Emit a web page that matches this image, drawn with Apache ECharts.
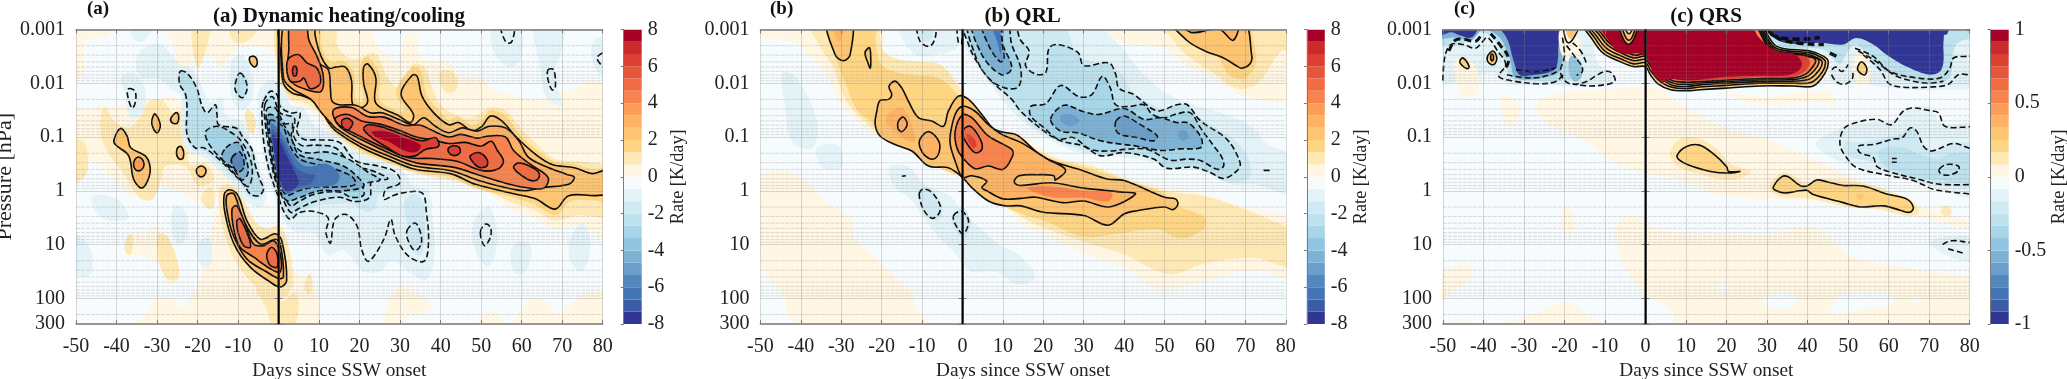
<!DOCTYPE html>
<html><head><meta charset="utf-8">
<style>html,body{margin:0;padding:0;background:#fff}#c{width:2067px;height:379px}</style>
<script src="https://cdn.jsdelivr.net/npm/echarts@6/dist/echarts.min.js"></script>
</head><body><div id="c"></div>
<script>
// Tick labels and axis values
const pressureTicks = [0.001, 0.01, 0.1, 1, 10, 100, 300];
const minorPressures = [0.002,0.003,0.004,0.005,0.006,0.007,0.008,0.009,0.02,0.03,0.04,0.05,0.06,0.07,0.08,0.09,0.2,0.3,0.4,0.5,0.6,0.7,0.8,0.9,2,3,4,5,6,7,8,9,20,30,40,50,60,70,80,90,200];
const onsetDay = [0];
const warmColors = ['#FFF6E4','#FEE8B4','#FED683','#FDC472','#FDB264','#FB9D59','#F7844E','#F16C43','#E6563B','#DC4032','#CA2A2C','#A50026'];
const coolColors = ['#F6FBFD','#E4F3F8','#D0EAF3','#BDE1ED','#A6D6E8','#92C5DF','#7DB2D5','#6A9FCB','#5487BE','#4575B4','#3D5CA8','#313695'];

// Contours: [rate level, line style (0 none, 1 closed, 2 open), [day, log10(hPa), ...]]
const dynamicContours = [
[0,0,[-51,-3.2,-41,-3.2,-42,-2.9,-48,-2.75,-48,-2.2,-51,-2.1]],
[0,0,[-29,-3.2,1,-3.2,0,-2.6,-5,-2.7,-11,-2.6,-14,-2.3,-20,-2.7,-22,-2.3,-24,-2.2,-26,-2.7]],
[0,0,[-51,-1.55,-46,-1.5,-44,-1.6,-40,-1.55,-36,-1.75,-31,-1.7,-26,-1.75,-22,-1.5,-23,-1.15,-19,-.95,-15,-.6,-11,-.2,-7,0,-4,.1,-2.5,.4,-5,.3,-10,.2,-15,.1,-20,.2,-25,0,-30,-.1,-35,.1,-38,0,-42,-.3,-46,-.55,-51,-.5]],
[0,0,[-37,.95,-35,.75,-33,.85,-31,.65,-29,.75,-28,.9,-25,1.3,-24.5,1.6,-27,1.75,-29,1.45,-31,1.3,-34,1.2,-37,1.15]],
[0,0,[-51,2.6,-51,2.5,-40,2.5,-36,2.45,-33,2.3,-30,2,-26,2,-24,2.2,-20,1.75,-18,1.2,-16,.5,-14,.2,-10,.8,-7,1.3,-4,1.6,-1,2.1,0,2,3,1.5,6,1.6,9,1.8,10,2.3,9,2.6]],
[0,0,[26,2.6,27,2.1,30,1.75,33,1.85,38,2.15,35,2.3,32,2.35,30,2.6]],
[0,0,[49,2.6,52,2.25,56,2.45,58,2.6]],
[0,0,[58,2.6,62,2.05,66,2.05,69,2.3,72,2.1,76,1.9,82,1.95,82,2.6]],
[0,0,[10.7,-3.2,23,-3.2,23.5,-2.8,29.6,-2.4,31.3,-2.9,34,-2.9,35,-2.5,38.7,-2.4,42,-2.4,45,-2.1,50,-2.1,52.7,-1.9,56.8,-1.8,62.5,-1.7,67.5,-1.8,73,-1.9,76.5,-2.05,82,-1.85,82,.85,73,.65,68,.7,63,.5,57,.35,51,0,42.8,-.2,34.6,-.45,29.6,-.45,22,-.6,14,-1,8,-1.5,4,-1.6,-.2,-2.1,-.2,-3.2]],
[.67,0,[-43,-1.55,-40,-1.25,-36,-1.2,-32,-1.65,-29,-1.7,-26,-1.45,-24,-1.5,-22,-1,-22,-.5,-18,-.5,-16,-.2,-20,-.1,-23,-.45,-28,-.45,-29,-.2,-31,.15,-34,.15,-38,-.3,-42,-.7,-44,-1.1]],
[.67,0,[-51,-.95,-48,-.9,-47,-.5,-48,-.25,-51,-.15]],
[.67,0,[-21,-3.2,-17,-3.2,-18,-2.6,-20,-2.3,-21.5,-2.9]],
[.67,0,[-12,-3.2,-6,-3.2,-6,-2.9,-10,-2.75,-12,-2.9]],
[.67,0,[-8,-1.5,-6,-1.4,-6,-1.1,-7.5,-1.1]],
[.67,0,[-29.5,.8,-27.5,.85,-25,1.3,-25,1.65,-28,1.6,-30,1.1]],
[.67,0,[-38,1,-36.5,.8,-36,1.05,-37,1.2]],
[.67,0,[-19,.1,-16.5,-.05,-16,.3,-18,.3]],
[.67,0,[7,1.6,8,1.55,8,1.9,6.5,1.85]],
[.67,0,[0,-3.2,14,-3.2,14.5,-2.7,18,-2.45,21,-2.5,24,-2.55,27,-2.1,30,-1.9,33,-2.35,36,-2.3,38,-1.9,40,-1.6,44,-1.4,47,-1.35,50,-1.45,52,-1.55,56,-1.5,60,-1.15,64,-.85,68,-.6,74,-.55,80,-.5,82,-.5,82,.45,80,.5,74,.45,68,.55,63,.35,57,.2,50,-.05,42,-.2,34,-.32,28,-.48,20,-.72,14,-1.02,10,-1.45,6,-1.65,2.5,-1.72,.2,-2.1]],
[.67,0,[40,-2.2,43,-2.2,44,-1.9,41,-1.85]],
[.67,0,[-14.5,-.05,-12,-.12,-9,.1,-6,.55,-3,.7,0,.65,2,.9,3.5,1.7,1,2,-3,1.9,-8,1.6,-12,1.1,-14.5,.4]],
[.67,0,[-6,1.75,-3,1.85,1,2.05,4,1.9,5,2.2,3,2.6,-1,2.6,-3,2.2]],
[1.33,0,[.3,-3.2,10,-3.2,10.5,-2.7,13,-2.4,16,-2.42,18.5,-2.2,18.8,-1.75,20,-1.65,21,-1.7,20,-2.1,20.5,-2.4,22,-2.5,25,-2.15,25,-1.7,29,-1.5,31,-1.5,29,-1.85,33,-2.3,35,-2.25,36.5,-1.8,39,-1.55,42,-1.33,44.5,-1.38,47.5,-1.22,50,-1.3,52.3,-1.5,56,-1.4,59.5,-1.05,64,-.75,68,-.55,73,-.5,78,-.4,82,-.42,82,.2,78,.18,72,.2,68.5,.45,63,.25,58,.13,48.5,-.05,42.5,-.25,34,-.35,28,-.5,20.5,-.75,14,-1.08,10,-1.55,6,-1.72,3,-1.78,.6,-2]],
[2,1,[.6,-3.2,8.8,-3.2,9,-2.9,10.5,-2.5,12.5,-2.28,14,-2.3,16.5,-2.3,18,-2.05,18.3,-1.6,20.6,-1.55,22,-1.66,21,-2,21,-2.3,22,-2.36,24,-2.1,24,-1.63,29.6,-1.4,32.5,-1.27,33.3,-1.42,30.2,-1.8,33,-2.15,34.2,-2.13,35.4,-1.76,38.3,-1.45,42,-1.23,44.4,-1.27,47.7,-1.12,50.2,-1.2,52.3,-1.39,55.1,-1.3,58.4,-1.02,63.4,-.68,67.5,-.49,73,-.43,77.4,-.32,80,-.37,82,-.37,82,.08,80,.08,78,.09,71.6,.09,68.3,.34,63.4,.15,58.4,.06,48.6,-.12,42.8,-.31,33.7,-.4,28,-.56,20.6,-.8,14,-1.12,12,-1.3,10,-1.6,6.2,-1.76,3.3,-1.82,1.2,-2,.6,-2.47]],
[3,1,[1.6,-3.2,6.6,-3.2,7,-2.75,10,-2.37,12.3,-2.25,12.8,-1.9,13.2,-1.67,15,-1.6,18,-1.6,19.8,-1.57,22.6,-1.45,25.5,-1.45,29.6,-1.33,33.3,-1.23,35.8,-1.36,38.7,-1.2,42,-1.08,45.3,-1.17,49,-1.11,52,-1.2,56,-1.17,59.3,-.93,61.7,-.62,66.7,-.43,71,-.31,73,-.25,71.6,-.12,65,-.06,60.9,0,55.9,-.06,49.4,-.19,42.8,-.37,33.7,-.46,28,-.62,20.6,-.86,14,-1.17,13,-1.25,10.3,-1.48,8,-1.7,3.3,-1.9,1.2,-2.1]],
[4,1,[3,-3.2,2.5,-2.6,2.2,-2.2,3.5,-2,7,-1.88,10.5,-1.85,11,-2.15,9.5,-2.5,7.5,-2.8,6.5,-3.2]],
[4,1,[13.5,-1.5,18,-1.55,22,-1.38,26,-1.37,31,-1.22,35,-1.22,38,-1.12,42,-1,45,-1.05,49,-.98,52,-1.02,56,-1,58,-.75,62,-.5,66.5,-.25,65.5,-.05,61,-.06,56,-.14,50,-.28,43,-.44,34,-.52,28,-.68,21,-.93,15,-1.2]],
[5,1,[14,-1.35,17,-1.42,20.5,-1.3,25,-1.24,30,-1.12,34,-1,38,-.95,42,-.88,46,-.9,50,-.83,52.5,-.92,54,-.75,55.5,-.55,54,-.4,50,-.38,44,-.55,38,-.6,32,-.62,26,-.8,20,-1.02,15,-1.22]],
[5,1,[2.6,-2.47,5,-2.53,7,-2.38,9.5,-2.28,10.3,-2,7.8,-1.9,6.2,-2.1,5.3,-2.04,2.9,-2.04,2,-2.3]],
[5,1,[58,-.43,59.3,-.52,63.4,-.4,64.4,-.28,63.4,-.19,61.3,-.22]],
[6,1,[21,-1.15,22.2,-1.23,26.3,-1.17,30.5,-1.05,35.4,-.93,38.7,-.99,39.5,-.83,36.2,-.77,33.7,-.65,30.5,-.65,26.3,-.83,23,-.99]],
[6,1,[42,-.8,44.4,-.82,44.6,-.69,42.4,-.68]],
[6,1,[47.3,-.65,49.4,-.71,51.4,-.59,51.4,-.46,49.4,-.44,47.7,-.56]],
[6,1,[15.6,-1.3,16.9,-1.35,18.3,-1.27,17.3,-1.14,16,-1.17]],
[6,1,[3.6,-2.3,4.4,-2.3,4.4,-2.15,3.6,-2.15]],
[7.4,0,[23,-1.1,27,-1.1,31,-.98,35,-.85,34,-.72,31,-.75,27,-.92,24,-1]],
[2,1,[-13.4,.06,-12,-.02,-10,.09,-7.8,.56,-4.5,.9,-.8,.8,.8,.93,2,1.67,.4,1.79,-2,1.7,-7,1.42,-11,.99,-13.2,.43]],
[3,1,[-12.8,.09,-11,.06,-8.6,.56,-4.5,.99,-.8,.9,.4,.99,1.2,1.6,0,1.63,-2.9,1.51,-7.8,1.27,-11,.86,-12.6,.43]],
[4,1,[-11.5,.34,-10.3,.28,-8.2,.62,-6.2,.99,-3.7,1.02,-1.2,.93,.4,1.17,.4,1.51,-2,1.45,-6.2,1.23,-9.5,1.05,-11,.74]],
[5,1,[-10.3,.56,-9.5,.52,-7.4,.86,-7,1.05,-8.6,1.02,-9.9,.8]],
[5,1,[-2.9,1.17,-1.7,1.05,-.4,1.17,-.4,1.42,-2,1.39,-2.7,1.3]],
[2,1,[-40.6,-.96,-39,-1.16,-37.4,-1.02,-36.5,-.8,-32.9,-.65,-31.7,-.43,-32.3,-.19,-33.9,-.05,-35.8,-.22,-37,-.65,-40.3,-.86]],
[3.4,1,[-35.8,-.49,-34.6,-.63,-33.2,-.49,-34.6,-.37]],
[2,1,[-31.3,-1.3,-30.5,-1.43,-29.2,-1.23,-29.9,-1.08,-31,-1.17]],
[2,1,[-26.5,-1.36,-25,-1.45,-24.9,-1.27,-26.3,-1.27]],
[2,1,[-25.1,-.77,-24,-.82,-23.5,-.62,-24.7,-.6]],
[2,1,[-20.3,-.37,-19.1,-.46,-17.9,-.37,-19.1,-.26]],
[2,1,[-7.2,-2.47,-5.8,-2.49,-5.3,-2.35,-6.2,-2.31]],
[-.67,0,[-36,-3.2,-31,-3.2,-33,-2.8,-36,-2.85]],
[-.67,0,[-35,-2.5,-30,-2.75,-26,-2.5,-24,-2.3,-22,-2.05,-24,-1.8,-30,-2.1,-34,-2.1]],
[-.67,0,[-39,-2.1,-36,-2.2,-33,-1.9,-33.5,-1.45,-36.5,-1.35,-38,-1.8]],
[-.67,0,[-25.5,-2.25,-22,-2.3,-19,-1.95,-17,-1.65,-14,-1.75,-13,-1.4,-9,-1.3,-7,-.95,-4.5,-.4,-3,.05,-4.5,.3,-8,.2,-11,-.1,-15,-.4,-19,-.65,-22,-.7,-24,-1.1,-24,-1.7]],
[-.67,0,[-11.5,-2.45,-8.5,-2.5,-6.5,-2.1,-6.5,-1.7,-9,-1.5,-11.5,-1.7]],
[-.67,0,[-5,-1.85,-2,-2.05,1,-1.95,3,-1.6,6,-1.55,9,-1.2,14,-1.05,20,-.7,26,-.55,31,-.35,33,-.1,37,0,38,.5,38.5,1.2,36.5,1.65,32,1.5,28,1.3,25,1.5,21,1.5,16,1.1,12,1.2,9,.8,4,.75,1,.5,-1,.1,-3,-.4,-4.5,-1,-5,-1.5]],
[-.67,0,[53,-3.2,59,-3.2,60,-2.5,57,-2.3,53,-2.6]],
[-.67,0,[63,-3.2,70,-3.2,70,-2.6,68,-2.2,70,-1.6,66,-1.75,64.5,-2.3]],
[-.67,0,[78,-2.8,82,-2.8,82,-2.1,78,-2.3]],
[-.67,0,[48,.6,52,.3,54,.9,52,1.4,49,1.2]],
[-.67,0,[72,.9,75,.6,77,1,75,1.5,72,1.3]],
[-.67,0,[58,1,62,1,61,1.5,58,1.5]],
[-.67,0,[-51,.8,-47,1,-46,1.5,-49,1.6,-51,1.4]],
[-.67,0,[-46,.1,-40,.15,-37,.5,-42,.55,-45,.4]],
[-.67,0,[-26,.3,-23,.4,-23,.9,-25.5,.95]],
[-.67,0,[-20,1,-17,.9,-17,1.4,-19,1.4]],
[-1.33,0,[-24.5,-2.2,-22.6,-2.15,-19.5,-1.75,-17.7,-1.4,-15,-1.6,-14.5,-1.25,-10,-1.2,-8.5,-1,-6,-.7,-5,-.2,-3.5,0,-5,.15,-7.5,.1,-9,-.1,-11.5,-.25,-15.5,-.55,-19,-.75,-21,-.75,-23,-1.05,-23,-1.6]],
[-1.33,0,[-10,-2.2,-8,-2.15,-7.5,-1.85,-9,-1.65,-11,-1.85]],
[-1.33,0,[-4,-1.7,-2,-1.9,0,-1.75,2,-1.5,5,-1.4,5,-1.1,9,-.95,15,-.88,20,-.55,26,-.42,30,-.2,29,-.02,25,.05,24,.3,22,.4,18,.25,14,.25,9,.28,5,.42,2.5,.5,0,.15,-2,-.3,-3.5,-.9]],
[-1.33,0,[31,.2,34,.05,36,.3,36,.9,35,1.2,33,1.1,32,.7]],
[-2,1,[-24.3,-2.22,-22.6,-2.19,-20.2,-1.91,-19,-1.6,-17.7,-1.45,-15.6,-1.6,-15.2,-1.42,-14.8,-1.23,-10.3,-1.16,-9,-1.02,-6.6,-.77,-5.8,-.49,-4.5,-.19,-3.7,-.03,-4.9,.09,-7,.06,-8.6,-.12,-11,-.31,-15.2,-.62,-18.5,-.8,-20.6,-.8,-22.6,-1.05,-22.6,-1.54,-23,-1.8,-24.4,-1.98]],
[-2,1,[-9.5,-2.19,-8.2,-2.07,-7.8,-1.88,-9,-1.73,-10.7,-1.88,-10.3,-2.1]],
[-.67,1,[-37,-1.9,-35.4,-1.85,-35.4,-1.63,-36.2,-1.54,-37.3,-1.79]],
[-3,1,[-18,-1.1,-15,-1.2,-11,-1.05,-9,-.9,-7,-.6,-6.5,-.3,-7.5,-.08,-10,-.25,-13,-.5,-17,-.85]],
[-4,1,[-13,-.8,-10,-.9,-8.5,-.7,-7.5,-.35,-9,-.2,-11,-.4,-14,-.6]],
[-5.4,1,[-11.5,-.62,-9.5,-.72,-8.5,-.45,-10,-.35,-11.5,-.5]],
[null,1,[-3.7,-1.67,-2,-1.85,-.4,-1.79,.4,-1.57,2.9,-1.45,5.3,-1.45,4.5,-1.11,6.2,-.96,10,-.95,15,-.9,19,-.56,24.7,-.46,28.4,-.37,30,-.22,29.6,-.12,26.5,-.03,26,.16,28,.1,30.4,.04,35.4,.04,36.5,.41,37,.97,35.9,1.31,32,1.21,28.8,.84,27.7,.53,26,.9,22.2,1.31,20.5,1.09,19.4,.66,16.7,.44,13.9,.53,12.8,.97,11.7,.78,12.2,.5,8.4,.38,5,.41,2.9,.53,1.2,.37,0,.12,-1.2,-.12,-2.5,-.43,-3.7,-.93,-4.1,-1.36,-4.1,-1.54]],
[-2.1,1,[-3.4,-1.6,-1.5,-1.75,.4,-1.45,3.9,-1.35,3.6,-1.05,5.5,-.85,9,-.85,14,-.8,18,-.5,24,-.35,27,-.22,23,-.18,22.5,.12,19,.2,15,.12,9,.2,5,.33,3,.4,.8,.1,-1,-.25,-2.4,-.8,-3.2,-1.2]],
[-3,1,[-3,-1.5,-1,-1.55,1.5,-1.25,3.4,-1.25,3.2,-.95,6,-.72,12,-.72,17,-.6,22,-.35,25,-.2,21,-.12,21,.08,18,.12,15,.02,9,.06,5,.2,3,.28,1,.03,-1,-.32,-2.2,-.9]],
[-4,1,[-2.6,-1.4,0,-1.35,3,-1,5,-.68,10,-.58,16,-.46,20,-.22,21,-.08,16,0,10,0,5,.13,2,.18,0,-.08,-1.6,-.6]],
[-5,1,[-2.2,-1.3,1,-1.2,2.7,-.85,5.5,-.58,12,-.45,18,-.27,19,-.12,14,-.07,9,-.07,5,0,2,.08,0,-.18,-1.3,-.7]],
[-6,0,[-1.9,-1.25,.5,-1.1,3,-.75,5.5,-.5,8,-.45,12,-.5,15,-.3,14,-.12,7,-.05,4,0,2,.06,0,-.2,-1.2,-.7]],
[-6.7,0,[-1.7,-1.15,.3,-1,2.5,-.7,4.5,-.42,7,-.32,9,-.3,8,-.14,4.5,-.06,2,.02,0,-.25,-1.1,-.7]],
[-7.4,0,[-1.5,-1.05,0,-.95,2,-.65,4,-.35,5,-.15,3.5,-.02,1.5,-.02,0,-.3,-1,-.7]],
[-1.4,1,[31.7,.74,33.7,.6,35,.77,35.2,.99,33.7,1.11,32,.93]],
[-.67,1,[49.8,.77,51,.62,52.3,.68,52.3,.86,50.8,1.02]],
[null,2,[54.3,-3.2,56,-2.78,57.6,-2.78,58.4,-3.2]],
[null,1,[66.5,-2.25,67.9,-2.25,68.3,-1.91,67.5,-1.88,66.5,-2.07]],
[null,2,[82,-2.62,80,-2.57,78.6,-2.47,80,-2.32,82,-2.27]]
];

const longwaveContours = [
[0,0,[-49.7,-.25,-44.7,-.37,-39,-.19,-35.6,.06,-33,.25,-28,.46,-26.6,.86,-21.6,1.23,-15.8,1.67,-12.5,1.91,-11.7,2.16,-9,2.41,-9,2.6,-34.7,2.6,-43,2.35,-44,1.98,-47.2,1.67,-50,1.36]],
[0,0,[-51,-3.2,-20,-3.2,-19.6,-2.47,-15.8,-2.38,-11,-2.35,-5.5,-2.35,-1.8,-2.1,1.5,-1.73,8,-1.17,14.4,-1.05,22.6,-.65,32,-.49,40,-.28,50,-.06,60,.06,70,.31,82,.56,82,1.6,72,1.48,60.5,1.67,50,1.85,45.7,1.73,40,1.42,30,1.17,20,.8,14.4,.62,9.7,.19,4.8,-.19,-.2,-.22,-6.8,-.46,-12.5,-.74,-15.8,-.86,-20.8,-.99,-24.9,-1.23,-30.7,-1.67,-33.6,-2.16,-38.1,-2.53,-41.4,-2.75,-49.7,-2.84,-51,-2.84]],
[0,0,[31,-3.2,82,-3.2,82,-1.75,70,-1.75,62,-2.1,55,-2.35,50,-2.65,40,-2.75,34,-3]],
[.67,0,[-49,-3.2,-44,-3.2,-47,-3.05]],
[.67,0,[-38,-3.2,-20.5,-3.2,-20.5,-2.9,-19.5,-2.6,-16,-2.45,-11,-2.4,-5.5,-2.35,-2,-2.05,1.5,-1.68,8,-1.12,14,-.95,22.6,-.62,32,-.45,40,-.23,50,0,60,.1,70,.35,80,.65,82,.65,82,1.4,72,1.25,60,1.35,52,1.55,47,1.45,40,1.18,30,.95,20,.68,14,.45,9,.1,4.5,-.25,-.5,-.35,-7,-.6,-13,-.88,-20,-1.05,-25,-1.35,-29,-1.7,-32,-2.3,-35,-2.65]],
[.67,0,[35,-3.2,40,-3.1,50,-2.95,55,-2.55,62,-2.2,68,-1.9,73,-2,76,-2.3,79,-2.6,82,-2.6,82,-3.2]],
[1.33,0,[-33,-3.2,-21,-3.2,-21.5,-2.8,-20,-2.35,-16,-2.2,-11,-2.15,-6,-2.1,-2.5,-1.9,1,-1.6,7,-1.15,14,-.9,22,-.6,32,-.4,40,-.2,50,.05,54,.3,60,.5,59.5,.72,54,.88,48,.72,38,.8,30,.85,20,.55,12,.35,6,.02,2,-.2,-5,-.4,-12,-.75,-17,-.9,-21,-1.2,-26,-1.5,-29,-2,-31,-2.4,-33,-2.85]],
[1.33,0,[45,-3.2,52,-3.05,57,-2.7,63,-2.5,66,-2.15,70,-2.1,72.5,-2.35,72,-2.8,70,-3.2]],
[2,1,[-21.2,-1.48,-20.4,-1.68,-18.3,-1.7,-17.5,-1.79,-18.2,-1.94,-16.7,-2.04,-15,-1.91,-13.4,-1.67,-10.9,-1.36,-7.6,-1.3,-4.7,-1.2,-3.5,-1.48,-1,-1.76,1.5,-1.7,4.8,-1.42,8,-1.14,13,-1.05,14.4,-.99,20.2,-.62,30,-.37,35.8,-.22,40,-.19,50,.12,52.7,.15,53.3,.25,52.1,.35,50,.3,43.2,.37,40,.43,36,.64,30,.46,20,.4,14.4,.28,10.5,.28,6.4,.19,2.3,-.06,0,-.25,-3.5,-.43,-8.4,-.46,-12.5,-.74,-16.7,-.86,-20.4,-1.02,-21.6,-1.23]],
[2.7,0,[-19,-1.35,-15,-1.55,-12,-1.1,-12,-.9,-16,-1.05]],
[2,1,[-33.6,-3.2,-31.5,-2.53,-29.5,-2.42,-27.8,-2.53,-27.6,-3.2]],
[3,0,[-32,-3.2,-29.5,-3.2,-30,-2.8,-31,-2.8]],
[2,1,[-24.1,-2.57,-23,-2.66,-22.7,-2.47,-22.8,-2.28,-23.4,-2.38]],
[3,1,[-3,-1.05,-1.8,-1.42,0,-1.57,3.1,-1.48,6.4,-1.23,9.7,-1.05,14.4,-.9,21,-.59,25.5,-.39,23,-.2,22.6,-.28,18.5,-.3,14,-.28,12.8,-.17,14,-.1,22,-.15,30,-.05,39,.02,42.8,.06,36.3,.3,30,.19,25,.22,18,.12,14.4,.14,10,.15,6,0,4.8,-.06,6,-.18,2.3,-.28,0,-.25,-1.8,-.55,-3,-.85]],
[3,1,[-10.5,-.96,-8.4,-1.1,-5.9,-.93,-5.8,-.71,-7.2,-.59,-9.2,-.65,-10.5,-.8]],
[3,1,[-15.8,-1.3,-14.6,-1.37,-13.7,-1.23,-15,-1.1,-16,-1.17]],
[4,0,[16,-.05,22,-.08,30,0,37,.04,36,.2,30,.13,22,.12]],
[4,1,[-1.8,-1.11,0,-1.41,2.3,-1.36,6.4,-1.02,12.2,-.77,12.4,-.65,10.1,-.4,6.4,-.46,3.1,-.41,0,-.62,-1.4,-.8]],
[5,1,[0,-1.11,1.9,-1.2,4.4,-.96,4.8,-.77,3.1,-.71,.7,-.93]],
[6,0,[1,-1.05,2.5,-1,3.5,-.85,2.5,-.8]],
[2,1,[51.4,-3.2,55.5,-2.8,60,-2.6,64.6,-2.47,67.9,-2.32,69,-2.28,71,-2.35,71.6,-2.5,69,-3.2]],
[3,1,[53.5,-3.2,56.4,-2.95,61.7,-3,63.8,-3,67,-2.8,68,-3.2]],
[4,1,[56.4,-3.2,58,-3.1,60,-3.2]],
[2,1,[44.4,-3.2,46,-3.1,48.6,-3.2]],
[-.67,0,[-16,-3.2,0,-3.2,-1,-2.7,-5,-2.55,-12,-2.55]],
[-.67,0,[0,-3.2,30,-3.2,39,-2.7,43.2,-2.3,49.7,-1.85,57,-1.6,65.4,-1.42,72,-1.17,75.3,-.87,82,-.62,82,.06,72,-.12,67,-.12,58.9,-.37,50,-.49,40,-.62,31,-.68,23.5,-.87,14.4,-1.33,10.1,-1.67,6.4,-2.04,2.3,-2.47,0,-2.78]],
[-.67,0,[-44.5,-2.2,-41,-2.1,-36,-1.3,-37,-.8,-42,-.9,-44,-1.6]],
[-.67,0,[-36,-.8,-31,-.85,-29.5,-.5,-31,-.4,-35,-.45]],
[-.67,0,[-18,-.45,-13.5,-.45,-9,-.1,-3,.1,0,.4,3,.6,9,1,14,1.2,18,1.6,14,1.75,8,1.5,2,1.5,-2,1.15,-6,.85,-10,.45,-13,.15,-17,-.1]],
[-1.33,0,[3,-3.2,20,-3.2,26,-2.95,28,-2.55,34,-2.35,39,-2.2,42,-1.85,47,-1.6,50,-1.5,57,-1.4,63,-1.15,68,-.9,71,-.55,71,-.25,66,-.15,58,-.45,50,-.55,40,-.7,31,-.73,23,-.95,16,-1.3,11,-1.75,7,-2.1,4,-2.6]],
[-1.33,0,[-11,0,-8,-.05,-5,.3,-6,.55,-9,.45]],
[-1.33,0,[-2.5,.5,0,.3,2,.6,.5,.9,-2,.7]],
[-1.33,0,[-12,-3.2,-8,-3.2,-7.5,-2.85,-10,-2.8]],
[-2,1,[.2,-3.2,12,-3.2,14.4,-2.8,16.5,-2.6,15.6,-2.33,18.1,-2.17,20.6,-2.2,21.4,-2.65,23.5,-2.72,28.6,-2.57,30,-2.33,36.2,-2.38,37.9,-2.17,38.7,-1.91,42.4,-1.79,48.1,-1.49,53,-1.6,55.6,-1.6,58.9,-1.3,65.4,-.96,68.7,-.52,67.9,-.37,64.6,-.23,61.3,-.34,57.2,-.44,50.5,-.42,47.3,-.59,40,-.71,34.2,-.65,30,-.83,24.3,-.93,20.2,-1.11,14.4,-1.48,12.2,-1.7,7.7,-2,4,-2.35,1.5,-2.72]],
[-3,1,[16.9,-1.57,20.6,-1.62,24.3,-1.96,28.8,-1.75,32,-1.79,34.6,-2.13,36.6,-1.91,37.9,-1.6,41.6,-1.57,44.9,-1.6,47,-1.42,50,-1.36,53,-1.43,56.4,-1.45,58.9,-1.17,62.5,-.8,64.2,-.62,64.6,-.46,63,-.4,59,-.56,55.6,-.59,51.4,-.57,45.7,-.77,40,-.77,36.6,-.74,31.7,-.77,27.4,-.99,23.7,-.96,20.2,-1.17,16.9,-1.39]],
[-3,1,[1.5,-3.2,3.1,-2.53,6.4,-2.1,10.6,-1.91,13.9,-1.94,14.4,-2.28,12.2,-2.72,10.6,-3.2]],
[-4,1,[21.8,-1.33,25.1,-1.59,30,-1.47,33.7,-1.42,40,-1.53,44.9,-1.33,49,-1.36,53,-1.27,55.6,-1.27,58,-1.11,59.3,-.93,58.9,-.8,53.9,-.78,49,-.75,43.2,-.83,40,-.86,34.2,-.93,28.4,-1.08,24.3,-1.11]],
[-4,1,[2.3,-3.2,4.8,-2.53,9.6,-2.16,12.2,-2.28,10,-2.72,8.9,-3.2]],
[-5,1,[38,-1.3,40,-1.39,44,-1.23,48.2,-1.02,47.3,-.93,43.2,-.99,39,-1.05,37.9,-1.14]],
[-5,1,[4.5,-3.2,6.5,-2.7,9.3,-2.4,10.3,-2.45,9.3,-2.9,8.5,-3.2]],
[-6,0,[6,-3.2,8,-2.9,9.5,-2.55,8.5,-3.2]],
[-4.7,0,[24.3,-1.4,27,-1.42,29,-1.3,26.5,-1.2,24.5,-1.28]],
[-4.7,0,[53.5,-1.1,55,-1.12,56,-1,54.5,-.93,53.5,-1]],
[null,2,[-11.7,-3.2,-10.5,-2.78,-8,-2.69,-6.6,-2.9,-6.8,-3.2]],
[null,2,[-1.4,-3.2,-1,-2.75,-.2,-2.75,0,-3.2]],
[null,1,[-10.7,.06,-9.7,-.03,-7.6,.03,-5.5,.28,-5.9,.43,-7.6,.51,-9.7,.34]],
[null,1,[-2.2,.46,-.2,.38,1.5,.56,.2,.8,-1.8,.62]],
[null,2,[-15,-.27,-14,-.28]],
[null,2,[74.5,-.38,76,-.38]]
];

const shortwaveContours = [
[-.083,0,[-51,-3.2,-15,-3.2,-12,-2.4,-8,-2.1,-14,-1.95,-24,-1.97,-33,-1.98,-36,-2.1,-38,-2.2,-45,-2.05,-51,-2.05]],
[-.25,0,[-51,-3.2,-20.5,-3.2,-19,-2.6,-17,-2.15,-20,-2.05,-28,-2.05,-33,-2.1,-35,-2.45,-37,-2.8,-41,-2.95,-45,-2.75,-51,-2.75]],
[-.5,0,[-51,-3.2,-21,-3.2,-20.5,-2.7,-21,-2.25,-24,-2.12,-32,-2.1,-33.5,-2.45,-36,-2.85,-40,-3,-43,-2.8,-47,-2.85,-51,-2.85]],
[-.95,0,[-51,-3.2,-40,-3.2,-41,-3.05,-43,-2.85,-46,-2.9,-48,-2.95,-51,-2.9]],
[-.95,0,[-41,-3.2,-21,-3.2,-21.5,-2.7,-22,-2.3,-24,-2.2,-28,-2.15,-31,-2.15,-32.5,-2.4,-34,-2.8,-36,-3,-39,-3.05]],
[0,0,[-21,-3,-17,-2.9,-16,-2.55,-19,-2.4,-21,-2.6]],
[-.42,0,[-18.5,-2.5,-16.5,-2.45,-15.5,-2.2,-16.5,-2.05,-18,-2.05,-19,-2.3]],
[.25,2,[-20.5,-3.2,-19,-2.75,-15.6,-3.2]],
[.25,0,[-20,-3.2,-16,-3.2,-18,-2.85,-19,-2.85]],
[0,0,[-47,-2.45,-43,-2.4,-41,-2.1,-42,-1.8,-45,-1.75,-47,-2.1]],
[0,0,[-35.5,-1.75,-32,-1.7,-31,-1.45,-33,-1.2,-35,-1.3]],
[.167,1,[-45.8,-2.42,-45,-2.47,-43.5,-2.31,-44,-2.27,-45.5,-2.35]],
[.167,1,[-39,-2.5,-37.6,-2.6,-36.7,-2.47,-37.4,-2.35,-38.7,-2.38]],
[.5,1,[-38.2,-2.52,-37.7,-2.54,-37.5,-2.45,-38,-2.42]],
[-.083,0,[27,-3.2,33,-2.65,45,-2.5,46,-2.05,52,-2,57,-1.95,65,-1.88,72,-1.88,82,-2,82,-3.2]],
[-.33,0,[28,-3.2,33,-2.7,44,-2.62,47,-2.4,48,-2.35,50,-2.6,52,-2.72,56,-2.4,58,-2.25,64,-2.1,70,-2,75,-2.1,76,-2.6,77,-2.75,82,-2.9,82,-3.2]],
[-.95,0,[29.5,-3.2,33.2,-2.78,43.9,-2.75,48.8,-2.72,52,-2.84,56.2,-2.72,59.5,-2.53,64.4,-2.31,70.2,-2.16,73,-2.25,73.5,-2.65,72.3,-3.2]],
[-.95,0,[72,-3.2,75,-3.2,74,-2.9]],
[-.95,0,[78,-3.2,82,-3.2,82,-3,79,-3]],
[0,0,[51.5,-2.5,54,-2.6,55.5,-2.3,55,-2,52,-2]],
[.167,1,[52.3,-2.28,53.3,-2.4,54.6,-2.28,54.2,-2.16,53,-2.19]],
[.167,1,[-15.6,-3.2,-12.8,-2.78,-10.3,-2.55,-6.2,-2.4,-2.9,-2.31,0,-2.31,1.2,-2.16,2.9,-2,6.2,-1.88,10.3,-1.86,13.4,-1.88,20,-1.91,28.2,-1.95,36.5,-1.95,41.4,-1.95,44.3,-2.19,45.1,-2.4,44,-2.5,40.6,-2.6,32.3,-2.69,26.6,-3.2]],
[.25,1,[-15.2,-3.2,-12.4,-2.83,-10,-2.6,-6,-2.45,-2.9,-2.36,0,-2.38,1.4,-2.22,3.2,-2.06,6.3,-1.93,10.3,-1.9,13.4,-1.93,20,-1.96,28.2,-2,36.5,-2,41,-2.02,43.7,-2.22,44.4,-2.4,43.4,-2.48,40.4,-2.57,32,-2.66,26.2,-3.2]],
[.33,1,[-14.8,-3.2,-12,-2.87,-9.6,-2.65,-5.8,-2.5,-2.8,-2.42,0,-2.44,1.6,-2.28,3.4,-2.12,6.4,-1.97,10.3,-1.94,13.4,-1.97,20,-2,28.2,-2.03,36.5,-2.04,40.5,-2.08,43,-2.26,43.6,-2.4,42.7,-2.46,40,-2.54,31.8,-2.63,25.8,-3.2]],
[.42,1,[-14.4,-3.2,-11.6,-2.92,-9.2,-2.7,-5.6,-2.55,-2.7,-2.47,0,-2.5,1.8,-2.34,3.6,-2.17,6.5,-2.01,10.3,-1.98,13.4,-2,20,-2.03,28.2,-2.06,36.5,-2.07,40,-2.13,42.3,-2.3,42.8,-2.42,42,-2.47,39.5,-2.52,31.6,-2.6,25.4,-3.2]],
[.58,1,[-14,-3.2,-11.2,-2.96,-8.8,-2.74,-5.4,-2.6,-2.6,-2.52,0,-2.55,2,-2.4,3.8,-2.22,6.6,-2.05,10.3,-2.02,13.4,-2.03,20,-2.06,28.2,-2.09,36.5,-2.1,39.5,-2.17,41.5,-2.33,42,-2.42,41.2,-2.48,39,-2.5,31.4,-2.57,25,-3.2]],
[.75,0,[-13,-3.2,-9,-2.8,-6,-2.62,-2.5,-2.57,0,-2.6,2,-2.45,4,-2.25,7,-2.08,14,-2.05,28,-2.11,36,-2.12,39,-2.2,40.5,-2.35,40,-2.48,37,-2.52,32,-2.57,28,-2.82,24.8,-3.2]],
[.95,0,[-11,-3.2,-7.8,-2.65,-5.3,-2.55,-1.2,-2.55,.8,-2.4,2,-2.16,4.5,-2.02,6,-2.08,10,-2.05,14,-2.07,20,-2.12,28,-2.14,35,-2.15,38,-2.25,38.5,-2.4,36.5,-2.55,32,-2.6,28,-2.85,24.5,-3.2]],
[.42,1,[-6.4,-3.2,-4.2,-2.72,-2,-3.2]],
[.25,1,[-5.8,-3.2,-4.1,-2.8,-2.5,-3.2]],
[0,1,[-5.2,-3.2,-4.1,-2.92,-3,-3.2]],
[null,2,[-50,-2.05,-49.5,-2.5,-48,-2.72,-45,-2.72,-42,-2.65,-40.5,-2.75,-39,-2.85,-36.5,-2.6,-34.5,-2.35,-36.2,-2.13,-32.5,-2.04,-26.7,-1.99,-22.6,-2.02,-21,-2.1,-20,-2.2]],
[null,2,[-48.5,-2.6,-47,-2.8,-45,-2.82,-42,-2.78,-40.8,-2.87],3],
[null,2,[-38.2,-2.92,-36.3,-2.75,-33.8,-2.45,-35,-2.25],3],
[null,2,[-34.2,-2.16,-28.4,-2.1,-23.5,-2.16,-21.4,-2.25]],
[null,2,[-32,-2.25,-26,-2.22,-22,-2.3]],
[null,2,[-20.5,-2.85,-20,-2.5,-21,-2.2,-19,-2,-15,-2.02,-12,-2.15,-10,-2.22,-8.5,-2.2,-7.5,-2.05,-9.5,-1.98,-14,-1.95,-18,-1.99]],
[null,2,[-19.5,-2.7,-17.5,-2.5,-15.5,-2.25,-17,-2.15]],
[null,2,[-18,-2.75,-16,-2.6,-14.5,-2.35]],
[null,2,[29,-3.05,33,-2.85,43,-2.85],3.5],
[null,2,[30,-3,34,-2.8,44,-2.72],3.5],
[null,2,[45.5,-2.56,47.2,-2.5],3.5],
[null,2,[45.9,-2.16,48,-1.99,50.9,-2.07,51,-2.25]],
[null,2,[46,-2.25,47,-2.3,48.5,-2.22,50,-2.35]],
[null,2,[51.7,-2.65,56.2,-2.5,60.3,-2.22,67,-2.1,72.7,-2.1,75.1,-2.28,76,-2.47,79.3,-2.5,82,-2.5]],
[null,2,[53.7,-2.53,57.9,-2.25,60,-2,62.8,-1.93,70.2,-1.93,74.7,-1.98,77.2,-2.16,79.7,-2.16,82,-2.16]],
[null,2,[52.5,-2.6,57,-2.4,62,-2.13,69.4,-2,73.5,-2.04]],
[0,0,[-26.9,-1.63,-21.4,-1.81,-13.6,-1.87,3,-1.9,8.4,-1.63,19.4,-1.19,30.4,-.94,47,-.39,63.5,.17,76.8,.48,82,.62,82,.78,80,.72,66.8,.48,52.5,.29,35.9,.16,19.4,.1,8.4,-.21,.1,-.33,-9.2,-.58,-13.6,-.89,-24.6,-1.27]],
[0,0,[20,-1.8,30,-1.75,45,-1.85,47,-1.6,43,-1.65,33,-1.6,25,-1.65]],
[0,0,[-7,.66,-2.6,.45,3,.73,19.4,.79,30.4,.82,40.3,.66,47,.97,50.3,1.22,63.5,1.41,80,1.6,82,1.6,82,2.6,8.4,2.6,6.2,2.22,-.4,1.91,-2.6,1.72,-6,1.29]],
[0,0,[-51,1.6,-44,1.35,-43,1.6,-48,1.9,-51,2.05]],
[0,0,[-26,2.25,-19,2.07,-14,2.35,-8,2.6,-50,2.6,-50,2.45,-35,2.45]],
[0,0,[-20.5,.35,-19,.3,-17.5,.7,-20,.8]],
[-.01,0,[29,2.02,33,1.9,37.3,1.93,36.5,2.16,30,2.16]],
[-.01,0,[48.8,1.93,61.2,1.93,60.4,2.1,48,2.28,45.5,2.28]],
[-.01,0,[66,2.04,68,2.04,67,2.1]],
[-.01,0,[18,1.76,20,1.76,20,1.85,18,1.85]],
[.083,0,[6,-.7,9,-.98,14,-.95,18,-.75,21,-.5,26,-.35,21,-.2,14,-.3,8,-.45]],
[.167,1,[7.8,-.66,10,-.82,13.3,-.85,16.7,-.69,20,-.45,20.5,-.36,23.3,-.36,20.5,-.33,16,-.36,10.6,-.48,8.4,-.57]],
[.083,0,[30.5,-.06,33.5,-.33,36,-.3,40,-.14,45,-.22,54,-.14,62,.06,66,.2,67.5,.4,65,.47,58,.35,50,.3,40,.14,33,.1]],
[.167,1,[31.5,-.06,33.6,-.26,35.2,-.26,38.1,-.1,39.8,-.09,42.2,-.2,44.7,-.17,48.8,-.1,53.7,-.09,59.5,.06,64.4,.15,66.1,.31,65.2,.4,62.8,.36,58.7,.28,53,.3,48.8,.22,41.4,.07,39.8,-.01,38.1,0,34.4,.04,32.3,0]],
[.083,0,[73,.33,74.5,.28,75.5,.42,73.5,.45]],
[.25,0,[52,.08,54,.08,53,.17]],
[-.083,0,[42,-.9,50,-1.2,58,-1.3,61,-1.3,64,-1.52,70,-1.55,73,-1.25,82,-1.2,82,.08,70,-.1,60,-.3,50,-.5,44,-.7]],
[-.167,0,[49,-.9,53,-.9,60,-1,63,-1.05,66,-1.2,68,-.85,72,-.75,76,-.9,82,-.8,82,-.1,72,-.15,62,-.3,55,-.55,50,-.65]],
[-.25,0,[58,-.78,64,-.8,67,-.7,72,-.6,76,-.7,82,-.65,82,-.2,72,-.2,62,-.35,58,-.55]],
[null,2,[82,.1,80,.06,76.1,.03,71,-.03,66.1,-.19,60.3,-.28,52.1,-.43,49.6,-.62,48,-.86,48.8,-1.14,51.2,-1.25,57,-1.33,60.7,-1.23,63.6,-1.48,66,-1.54,70.2,-1.49,72.3,-1.45,73.9,-1.2,80,-1.19,82,-1.19]],
[null,2,[82,-.12,72.7,-.12,67,-.22,59.5,-.37,57,-.46,56.2,-.62,52.9,-.71,52.5,-.83,56.2,-.86,61,-.96,63.4,-.99,65.3,-1.17,66.9,-1.11,68.6,-.83,70.6,-.74,76,-.88,80,-.79,82,-.76]],
[null,1,[72.5,-.4,74.3,-.49,77.2,-.46,77.2,-.37,74.7,-.29,72.7,-.33]],
[null,2,[60.8,-.6,62,-.6]],
[null,2,[60.8,-.53,62,-.53]],
[-.083,0,[70,.95,75,.85,82,.9,82,1.3,76,1.25,71,1.05]],
[null,2,[73.3,1,75.6,.93,80,.96,82,.96]],
[null,2,[74.7,1.08,78.9,1.17]]
];

const rateBandEdges = [-1,-.9167,-.8333,-.75,-.6667,-.5833,-.5,-.4167,-.3333,-.25,-.1667,-.0833,0,.0833,.1667,.25,.3333,.4167,.5,.5833,.6667,.75,.8333,.9167,1];
const rateLimits = [8, 8, 1];
const panelNames = ['(a) Dynamic heating/cooling', '(b) QRL', '(c) QRS'];
const panelTags = ['(a)', '(b)', '(c)'];
const panelContours = [dynamicContours, longwaveContours, shortwaveContours];
const xAxisTitle = 'Days since SSW onset';
const yAxisTitle = 'Pressure [hPa]';
const barTitle = 'Rate [K/day]';

// Layout
const layout = [
  {left:76, width:526.7, bar:623.7, titleX:339, tagX:87},
  {left:760.4, width:525.4, bar:1306.8, titleX:1022.6, tagX:770},
  {left:1442.9, width:526.8, bar:1990.7, titleX:1706, tagX:1454}
];
const TOP = 29.5, H = 294.5, FONT = '"Liberation Serif","Times New Roman",serif', GREY = '#7b7b7b';

function fillOf(level, step){
  if (level === null) return 'none';
  const k = Math.min(11, Math.floor(Math.abs(level)/step + 0.01));
  return level >= 0 ? warmColors[k] : coolColors[k];
}
function contourSeries(shapes, step, xi, yi){
  return {
    type:'custom', xAxisIndex:xi, yAxisIndex:yi, clip:true, z:2, progressive:0, silent:true,
    data: shapes.map(s => [s[2][0], Math.pow(10, s[2][1])]),
    renderItem(params, api){
      const s = shapes[params.dataIndex], pts = [];
      for (let i = 0; i < s[2].length; i += 2) pts.push(api.coord([s[2][i], Math.pow(10, s[2][i+1])]));
      const style = { fill: s[1] === 2 ? 'none' : fillOf(s[0], step) };
      if (s[1]) {
        style.stroke = '#0d0d0d'; style.lineWidth = s[3] || 1.6;
        if (s[0] === null || s[0] < 0) style.lineDash = s[3] ? [7,4] : [6,3];
      } else style.stroke = 'none';
      return { type: s[1] === 2 ? 'polyline' : 'polygon', shape:{ points: pts, smooth: s[2].length > 8 ? 0.35 : 0.5 }, style };
    }
  };
}
function minorSeries(xi, yi){
  return {
    type:'custom', xAxisIndex:xi, yAxisIndex:yi, clip:true, z:3, silent:true,
    data: minorPressures.map(p => [-50, p]),
    renderItem(params, api){
      const a = api.coord([-50, api.value(1)]), b = api.coord([80, api.value(1)]);
      return { type:'line', shape:{x1:a[0], y1:a[1], x2:b[0], y2:b[1]}, style:{stroke:'rgba(130,130,130,0.27)', lineWidth:1, lineDash:[4,1]} };
    }
  };
}
const grid = [], xAxis = [], yAxis = [], series = [], title = [];
layout.forEach((g, p) => {
  const gi = grid.length;
  grid.push({left:g.left, top:TOP, width:g.width, height:H, show:true, backgroundColor:coolColors[0], borderWidth:0, outerBoundsMode:'none', containLabel:false});
  const xi = xAxis.length, yi = yAxis.length;
  const lab = {fontFamily:FONT, fontSize:20, color:'#222'};
  xAxis.push({type:'value', gridIndex:gi, min:-50, max:80, interval:10, z:5, position:'bottom',
    axisLine:{lineStyle:{color:GREY, width:1.5}}, axisTick:{inside:true, length:4, lineStyle:{color:GREY}},
    axisLabel:{...lab, margin:13}, splitLine:{show:true, lineStyle:{color:'rgba(130,130,130,0.3)', width:1}},
    name:xAxisTitle, nameLocation:'middle', nameGap:35, nameTextStyle:{fontFamily:FONT, fontSize:19.3, color:'#222'}});
  xAxis.push({type:'value', gridIndex:gi, min:-50, max:80, interval:10, z:5, position:'top',
    axisLine:{lineStyle:{color:GREY, width:1.5}}, axisTick:{inside:true, length:4, lineStyle:{color:GREY}},
    axisLabel:{show:false}, splitLine:{show:false}});
  yAxis.push({type:'log', logBase:10, gridIndex:gi, min:0.001, max:300, inverse:true, z:5, position:'left',
    axisLine:{show:true, lineStyle:{color:GREY, width:1.5}}, axisTick:{show:true, inside:true, length:4, customValues:pressureTicks, lineStyle:{color:GREY}},
    axisLabel:{...lab, margin:11, customValues:pressureTicks, formatter:v => String(+(+v).toPrecision(3))},
    splitLine:{show:true, lineStyle:{color:'rgba(130,130,130,0.3)', width:1}},
    name: p === 0 ? yAxisTitle : '', nameLocation:'middle', nameGap:51, nameTextStyle:{fontFamily:FONT, fontSize:22, color:'#222'}});
  yAxis.push({type:'log', logBase:10, gridIndex:gi, min:0.001, max:300, inverse:true, z:5, position:'right',
    axisLine:{show:true, lineStyle:{color:GREY, width:1.5}}, axisTick:{show:true, inside:true, length:4, customValues:pressureTicks, lineStyle:{color:GREY}},
    axisLabel:{show:false}, splitLine:{show:false}});
  series.push(contourSeries(panelContours[p], rateLimits[p]/12, xi, yi));
  series.push(minorSeries(xi, yi));
  series.push({type:'line', xAxisIndex:xi, yAxisIndex:yi, z:8, symbol:'none', silent:true, animation:false,
    data:[[onsetDay[0], 0.001],[onsetDay[0], 300]], lineStyle:{color:'#000', width:2}});

  // colour bar
  const bi = grid.length, lim = rateLimits[p];
  grid.push({left:g.bar, top:TOP, width:18, height:H, outerBoundsMode:'none', containLabel:false});
  const bx = xAxis.length, by = yAxis.length;
  xAxis.push({type:'value', gridIndex:bi, min:0, max:1, show:false});
  yAxis.push({type:'value', gridIndex:bi, min:-lim, max:lim, interval:lim === 8 ? 2 : 0.5, position:'right', z:5,
    axisLine:{show:true, lineStyle:{color:GREY, width:1}}, axisTick:{show:true, inside:true, length:3, lineStyle:{color:GREY}},
    axisLabel:{...lab, margin:6, formatter:v => String(v)}, splitLine:{show:false},
    name:barTitle, nameLocation:'middle', nameRotate:90, nameGap:27, nameTextStyle:{fontFamily:FONT, fontSize:18.3, color:'#222'}});
  series.push({type:'custom', xAxisIndex:bx, yAxisIndex:by, clip:true, z:2, silent:true,
    data: rateBandEdges.slice(0,-1).map((e,i) => [0, e*lim, rateBandEdges[i+1]*lim]),
    renderItem(params, api){
      const i = params.dataIndex, a = api.coord([0, api.value(1)]), b = api.coord([1, api.value(2)]);
      const c = i < 12 ? coolColors[11 - i] : warmColors[i - 12];
      return {type:'rect', shape:{x:a[0], y:b[1], width:b[0]-a[0], height:a[1]-b[1]}, style:{fill:c}};
    }});
  title.push({text:panelNames[p], left:g.titleX, top:6, padding:0, textAlign:'center', textStyle:{fontFamily:FONT, fontSize:21, fontWeight:'bold', color:'#111'}});
  title.push({text:panelTags[p], left:g.tagX, top:0, padding:0, textStyle:{fontFamily:FONT, fontSize:19, fontWeight:'bold', color:'#111'}});
});
const chart = echarts.init(document.getElementById('c'), null, {renderer:'canvas'});
chart.setOption({animation:false, backgroundColor:'#fff', title, grid, xAxis, yAxis, series});
</script></body></html>
